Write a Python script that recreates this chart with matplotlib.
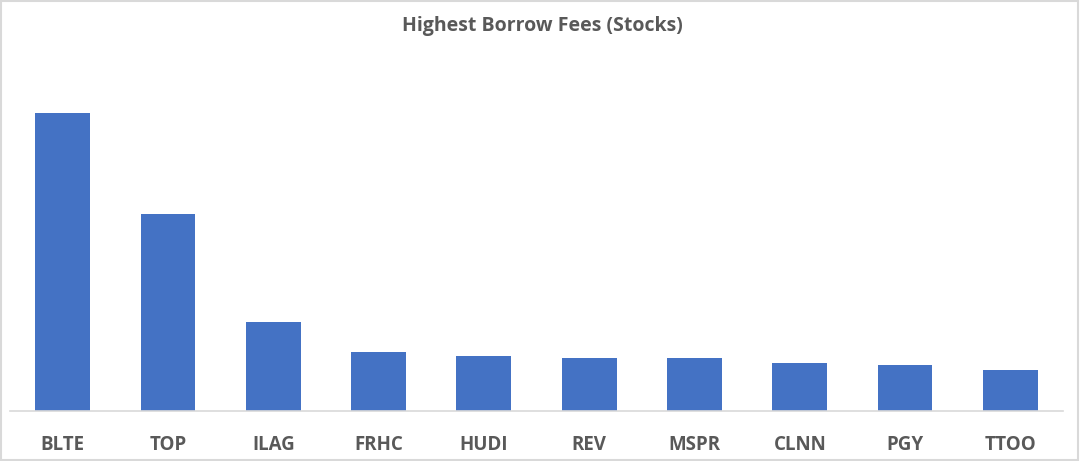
import matplotlib.pyplot as plt
from matplotlib.patches import Rectangle

# tickers and borrow fee (no axis shown)
tickers = ['BLTE', 'TOP', 'ILAG', 'FRHC', 'HUDI', 'REV', 'MSPR', 'CLNN', 'PGY', 'TTOO']
fees = [298, 197, 89, 59, 55, 53, 53, 48, 46, 41]

fig = plt.figure(figsize=(10.8, 4.61), dpi=100)
ax = fig.add_axes([10 / 1080, 50 / 461, 1053 / 1080, 351 / 461])

ax.bar(tickers, fees, width=0.52, color='#4472C4')
ax.set_xlim(-0.5, len(tickers) - 0.5)
ax.set_ylim(0, 351)

# only the baseline is visible
for side in ['left', 'right', 'top']:
    ax.spines[side].set_visible(False)
ax.spines['bottom'].set_color('#d9d9d9')
ax.spines['bottom'].set_linewidth(1.2)
ax.set_yticks([])
ax.tick_params(axis='x', length=0, pad=17, labelsize=13.5, labelcolor='#595959')
for lbl in ax.get_xticklabels():
    lbl.set_fontfamily('Open Sans')
    lbl.set_fontweight('bold')

fig.text(0.502, 1 - 26 / 461, 'Highest Borrow Fees (Stocks)', ha='center', va='center',
         fontsize=14, color='#595959', fontfamily='Open Sans', fontweight='bold')

# light frame around the chart
fig.patches.append(Rectangle((0.001, 0.002), 0.997, 0.995, transform=fig.transFigure,
                             fill=False, edgecolor='#d9d9d9', linewidth=1.5))

fig.savefig('out.png', dpi=100)
